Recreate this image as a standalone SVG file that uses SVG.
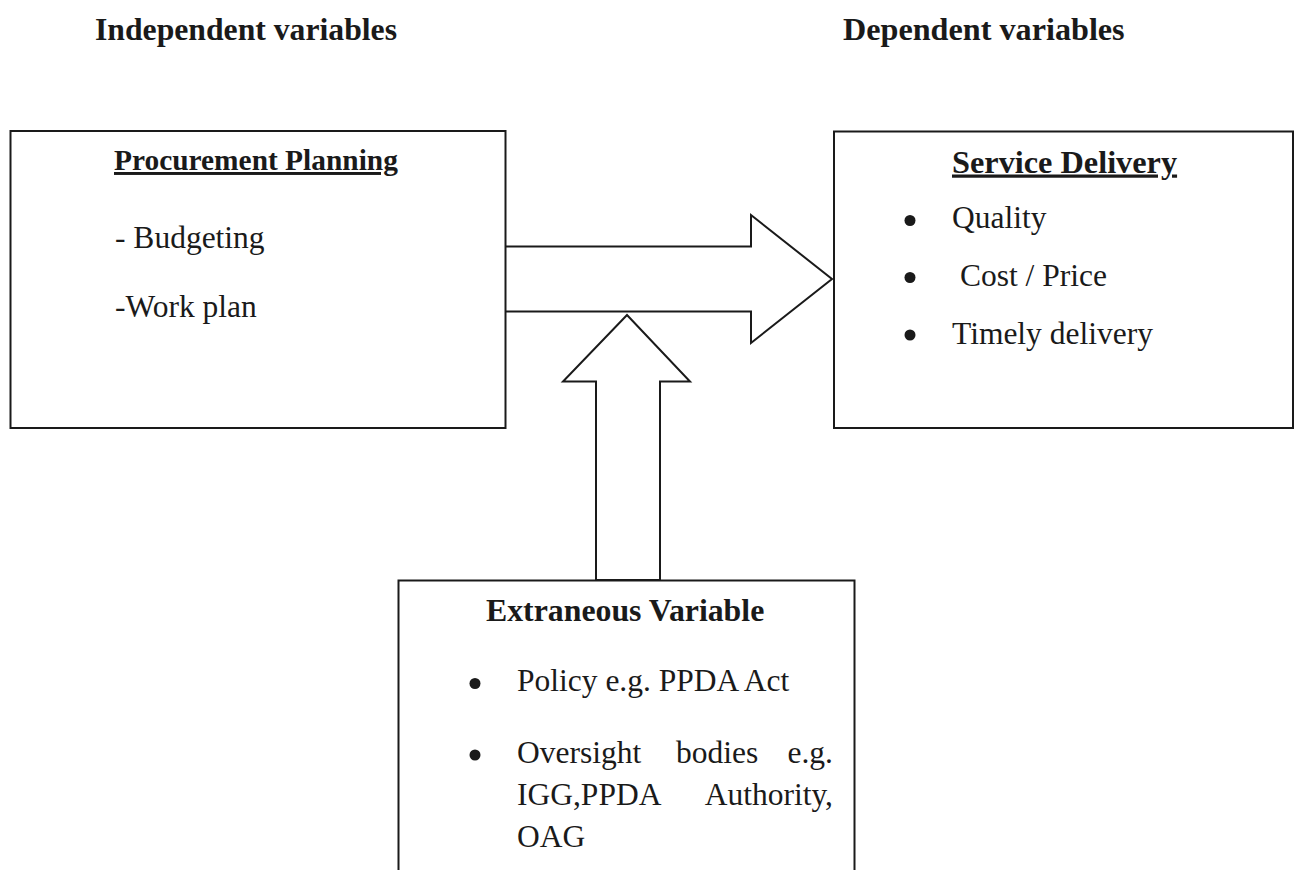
<svg xmlns="http://www.w3.org/2000/svg" width="1295" height="870" viewBox="0 0 1295 870">
<style>
.box{fill:#fff;stroke:#1a1a1a;stroke-width:2}
.arrow{fill:#fff;stroke:#1a1a1a;stroke-width:2;stroke-linejoin:miter}
.t{font-family:"Liberation Serif","Times New Roman",serif;font-size:31.5px;fill:#1a1a1a}
.b{font-weight:bold}
.u{text-decoration:underline}
.dot{fill:#1a1a1a}
</style>
<rect width="1295" height="870" fill="#fff"/>
<g id="headers">
<text class="t b" x="95" y="40" style="font-size:31.7px">Independent variables</text>
<text class="t b" x="843" y="40" style="font-size:32.2px">Dependent variables</text>
</g>
<g id="connectors">
<polygon class="arrow" points="505,246.5 751,246.5 751,215 832,279 751,343 751,311.5 505,311.5"/>
<polygon class="arrow" points="596,580 596,381.5 563,381.5 627,315 690,381.5 660,381.5 660,580"/>
</g>
<g id="procurement-planning">
<rect class="box" x="10.5" y="131" width="495" height="297"/>
<text class="t b u" x="114" y="170" style="font-size:29.4px">Procurement Planning</text>
<text class="t" x="115" y="248">- Budgeting</text>
<text class="t" x="115" y="317">-Work plan</text>
</g>
<g id="service-delivery">
<rect class="box" x="834" y="131.5" width="459" height="296.5"/>
<text class="t b u" x="952" y="172.5" style="font-size:32.3px">Service Delivery</text>
<circle class="dot" cx="910" cy="220.5" r="5.5"/>
<circle class="dot" cx="910" cy="277.5" r="5.5"/>
<circle class="dot" cx="910" cy="335" r="5.5"/>
<text class="t" x="952" y="228">Quality</text>
<text class="t" x="952" y="286" xml:space="preserve"> Cost / Price</text>
<text class="t" x="952" y="344">Timely delivery</text>
</g>
<g id="extraneous-variable">
<rect class="box" x="398.5" y="580.5" width="456" height="300"/>
<text class="t b" x="486" y="620.5" style="font-size:31.8px">Extraneous Variable</text>
<circle class="dot" cx="475" cy="683.5" r="5.5"/>
<circle class="dot" cx="475" cy="755" r="5.5"/>
<text class="t" x="517" y="690.5">Policy e.g. PPDA Act</text>
<text class="t" x="517" y="762.5">Oversight</text>
<text class="t" x="676" y="762.5">bodies</text>
<text class="t" x="833" y="762.5" text-anchor="end">e.g.</text>
<text class="t" x="517" y="805">IGG,PPDA</text>
<text class="t" x="833" y="805" text-anchor="end">Authority,</text>
<text class="t" x="517" y="846.5">OAG</text>
</g>
</svg>
